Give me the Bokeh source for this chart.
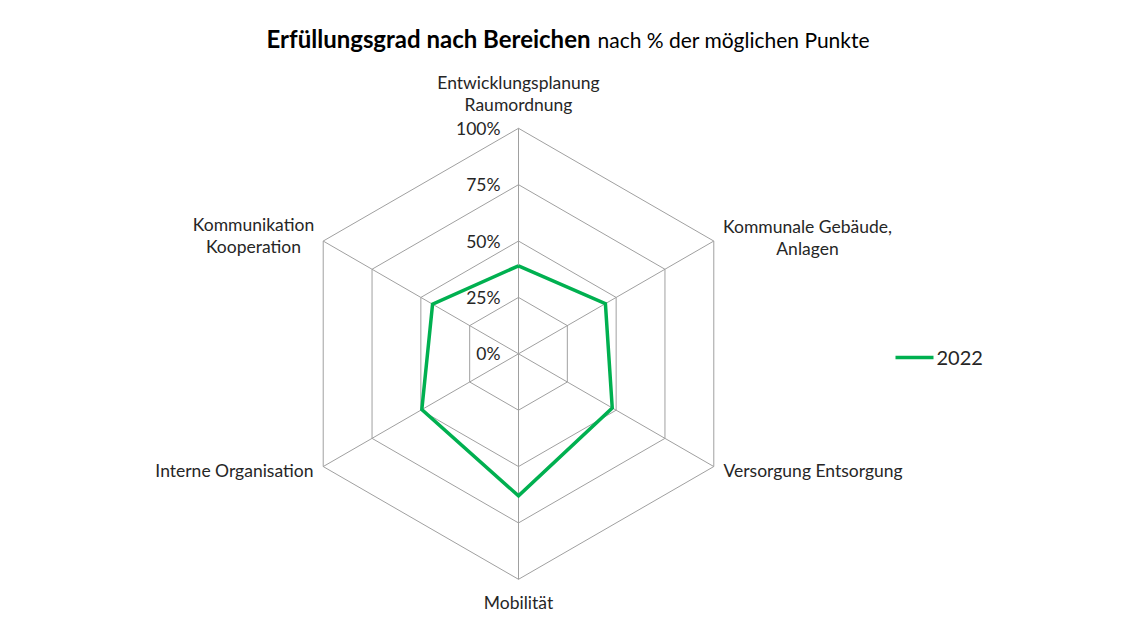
import math
from bokeh.plotting import figure
from bokeh.models import Range1d
from bokeh.core.properties import value
from bokeh.embed import file_html
from bokeh.resources import INLINE

# ---- data ----
categories = ["Entwicklungsplanung\nRaumordnung", "Kommunale Gebäude,\nAnlagen",
              "Versorgung Entsorgung", "Mobilität", "Interne Organisation",
              "Kommunikation\nKooperation"]
values_2022 = [0.39, 0.445, 0.48, 0.63, 0.495, 0.44]
levels = [0.0, 0.25, 0.5, 0.75, 1.0]
level_labels = ["0%", "25%", "50%", "75%", "100%"]
series_name = "2022"

FONT = "Lato"
GREEN = "#00B050"
GRID = "#A0A0A0"

W, H = 1124, 625
p = figure(width=W, height=H, output_backend="svg", toolbar_location=None,
           x_range=Range1d(0, W), y_range=Range1d(H, 0), min_border=0)
p.axis.visible = False
p.grid.visible = False
p.outline_line_color = None
p.background_fill_color = "white"
p.border_fill_color = "white"

cx, cy, R = 518.0, 353.3, 225.5
n = len(categories)
angles = [math.pi / 2 - 2 * math.pi * i / n for i in range(n)]

def pt(r, a):
    return cx + R * r * math.cos(a), cy - R * r * math.sin(a)

# grid hexagons
for lv in levels[1:]:
    xs = [pt(lv, a)[0] for a in angles] + [pt(lv, angles[0])[0]]
    ys = [pt(lv, a)[1] for a in angles] + [pt(lv, angles[0])[1]]
    p.line(xs, ys, line_color=GRID, line_width=1)
# spokes
for a in angles:
    x1, y1 = pt(1.0, a)
    p.line([cx, x1], [cy, y1], line_color=GRID, line_width=1)

# level labels
lx = [cx - 18 for lv in levels]
ly = [pt(lv, angles[0])[1] for lv in levels]
p.text(lx, ly, text=level_labels, text_align="right", text_baseline="middle",
       text_font=value(FONT), text_font_size="17.5px", text_color="#262626")

# data series
dx = [pt(v, a)[0] for v, a in zip(values_2022, angles)]
dy = [pt(v, a)[1] for v, a in zip(values_2022, angles)]
p.line(dx + [dx[0]], dy + [dy[0]], line_color=GREEN, line_width=3.5, line_join="miter")

# category labels
lab_x = [cx, 807, 723, cx, 313, 253]
lab_y = [93, 237, 470, 602, 470, 235]
aligns = ["center", "center", "left", "center", "right", "center"]
for t, x, y, al in zip(categories, lab_x, lab_y, aligns):
    p.text([x], [y], text=[t], text_align=al, text_baseline="middle",
           text_font=value(FONT), text_font_size="17.5px", text_color="#262626",
           text_line_height=1.05)

# title
p.text([590], [38], text=["Erfüllungsgrad nach Bereichen"], text_align="right",
       text_baseline="middle", text_font=value(FONT), text_font_size="24px",
       text_font_style="bold", text_color="#000000")
p.text([597], [39], text=["nach % der möglichen Punkte"], text_align="left",
       text_baseline="middle", text_font=value(FONT), text_font_size="21px",
       text_color="#000000")

# legend
p.line([895, 933], [357, 357], line_color=GREEN, line_width=3.5)
p.text([936], [357], text=[series_name], text_align="left", text_baseline="middle",
       text_font=value(FONT), text_font_size="20px", text_color="#262626")

open("out.html", "w").write(file_html(p, INLINE))
